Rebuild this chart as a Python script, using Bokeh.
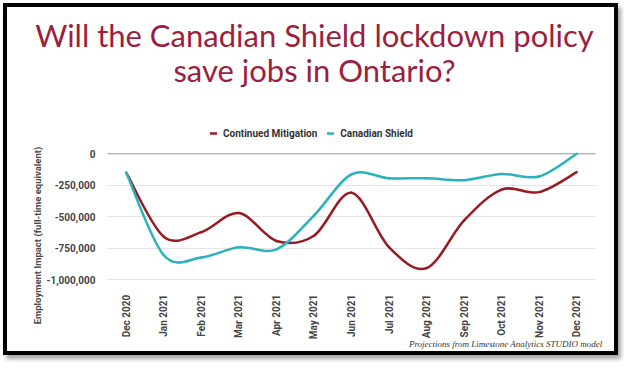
import math
from bokeh.plotting import figure
from bokeh.models import (Range1d, FixedTicker, NumeralTickFormatter, Span, Label,
                          BoxAnnotation, Legend, LegendItem, ColumnDataSource)
from bokeh.embed import file_html
from bokeh.resources import INLINE

months = ["Dec 2020", "Jan 2021", "Feb 2021", "Mar 2021", "Apr 2021", "May 2021",
          "Jun 2021", "Jul 2021", "Aug 2021", "Sep 2021", "Oct 2021", "Nov 2021", "Dec 2021"]
continued_mitigation = [-150000, -658000, -622000, -470000, -692000, -650000,
                        -310000, -741000, -907000, -529000, -284000, -304000, -146000]
canadian_shield = [-150000, -805000, -823000, -742000, -758000, -490000,
                   -163000, -194000, -194000, -209000, -160000, -180000, 0]
y_ticks = [-1000000, -750000, -500000, -250000, 0]

title_lines = ["Will the Canadian Shield lockdown policy", "save jobs in Ontario?"]
y_title = "Employment Impact (full-time equivalent)"
footnote = "Projections from Limestone Analytics STUDIO model"

RED = "#961b22"
TEAL = "#2bb2bc"
TITLE_COLOR = "#9c1f3d"

# canvas geometry (pixels); the 4px border is drawn inside the element box
BORDER = 4
W, H = 615, 352
PLOT_L, PLOT_R = 100, 588          # plot area left / right
Y0_PX, YMIN_PX = 146.3, 272.3      # pixel rows of 0 and of the lowest tick
n = len(months)
x_per_px = n / (PLOT_R - PLOT_L)
y_per_px = (0 - y_ticks[0]) / (YMIN_PX - Y0_PX)
x_start = -0.5 - PLOT_L * x_per_px
x_end = n - 0.5 + (W - PLOT_R) * x_per_px
y_top = Y0_PX * y_per_px
y_bottom = -(H - Y0_PX) * y_per_px

p = figure(width=W, height=H, output_backend="svg", toolbar_location=None,
           x_range=Range1d(x_start, x_end), y_range=Range1d(y_bottom, y_top),
           min_border=0, background_fill_color="white", border_fill_color="white")
p.outline_line_color = None
p.styles = {"border": "%dpx solid #000" % BORDER, "margin": "3px 0 0 3px",
            "box-shadow": "3px 4px 4px rgba(0,0,0,0.35)"}


def bezier_source(vals):
    m = len(vals)
    xs = list(range(m))
    x0, y0, x1, y1, cx0, cy0, cx1, cy1 = [], [], [], [], [], [], [], []
    for i in range(m - 1):
        pm = max(i - 1, 0)
        pp = min(i + 2, m - 1)
        x0.append(xs[i]); y0.append(vals[i])
        x1.append(xs[i + 1]); y1.append(vals[i + 1])
        cx0.append(xs[i] + (xs[i + 1] - xs[pm]) / 6.0)
        cy0.append(vals[i] + (vals[i + 1] - vals[pm]) / 6.0)
        cx1.append(xs[i + 1] - (xs[pp] - xs[i]) / 6.0)
        cy1.append(vals[i + 1] - (vals[pp] - vals[i]) / 6.0)
    return ColumnDataSource(dict(x0=x0, y0=y0, x1=x1, y1=y1,
                                 cx0=cx0, cy0=cy0, cx1=cx1, cy1=cy1))


# grid + baseline, limited to the plot area by white masks
p.xgrid.grid_line_color = None
p.ygrid.ticker = FixedTicker(ticks=y_ticks)
p.ygrid.grid_line_color = "#e4e4e4"
p.ygrid.grid_line_width = 1
p.add_layout(Span(location=0, dimension="width", line_color="#a0a0a0", line_width=1,
                  level="underlay"))
p.add_layout(BoxAnnotation(right=-0.5, fill_color="white", fill_alpha=1.0,
                           line_color=None, level="underlay"))
p.add_layout(BoxAnnotation(left=n - 0.5, fill_color="white", fill_alpha=1.0,
                           line_color=None, level="underlay"))

r_red = p.bezier(x0="x0", y0="y0", x1="x1", y1="y1", cx0="cx0", cy0="cy0",
                 cx1="cx1", cy1="cy1", source=bezier_source(continued_mitigation),
                 line_color=RED, line_width=2.5, line_cap="round")
r_teal = p.bezier(x0="x0", y0="y0", x1="x1", y1="y1", cx0="cx0", cy0="cy0",
                  cx1="cx1", cy1="cy1", source=bezier_source(canadian_shield),
                  line_color=TEAL, line_width=2.5, line_cap="round")

# axes, pinned to the plot-area edges
p.xaxis.fixed_location = y_ticks[0]
p.xaxis.ticker = FixedTicker(ticks=list(range(n)))
p.xaxis.major_label_overrides = {i: m for i, m in enumerate(months)}
p.xaxis.major_label_orientation = math.pi / 2
p.xaxis.axis_line_color = None
p.xaxis.major_tick_line_color = None
p.xaxis.minor_tick_line_color = None
p.xaxis.major_label_standoff = 9
p.xaxis.major_label_text_font = "Roboto"
p.xaxis.major_label_text_font_style = "bold"
p.xaxis.major_label_text_font_size = "10px"
p.xaxis.major_label_text_color = "#444444"

p.yaxis.fixed_location = -0.5
p.yaxis.ticker = FixedTicker(ticks=y_ticks)
p.yaxis.formatter = NumeralTickFormatter(format="0,0")
p.yaxis.axis_line_color = None
p.yaxis.major_tick_line_color = None
p.yaxis.minor_tick_line_color = None
p.yaxis.major_label_standoff = 6
p.yaxis.major_label_text_font = "Roboto"
p.yaxis.major_label_text_font_style = "bold"
p.yaxis.major_label_text_font_size = "10px"
p.yaxis.major_label_text_color = "#444444"

# legend
legend = Legend(items=[LegendItem(label="Continued Mitigation", renderers=[r_red]),
                       LegendItem(label="Canadian Shield", renderers=[r_teal])],
                orientation="horizontal", location=(203, H - 132),
                padding=0, margin=0, spacing=10, label_standoff=6,
                glyph_width=7, glyph_height=12, label_height=12,
                label_text_font="Roboto", label_text_font_style="bold",
                label_text_font_size="10px", label_text_color="#333333",
                border_line_color=None, background_fill_alpha=0)
p.add_layout(legend, "center")

# title
p.add_layout(Label(x=307, y=H - 27, x_units="screen", y_units="screen", text=title_lines[0],
                   text_align="center", text_baseline="alphabetic",
                   text_font="Lato", text_font_size="31px", text_color=TITLE_COLOR))
p.add_layout(Label(x=307, y=H - 62, x_units="screen", y_units="screen", text=title_lines[1],
                   text_align="center", text_baseline="alphabetic",
                   text_font="Lato", text_font_size="31px", text_color=TITLE_COLOR))

# y axis title
p.add_layout(Label(x=30, y=H - 228, x_units="screen", y_units="screen", text=y_title,
                   angle=math.pi / 2, text_align="center", text_baseline="middle",
                   text_font="Roboto", text_font_size="9.5px", text_font_style="bold",
                   text_color="#4a4a4a"))

# footnote
p.add_layout(Label(x=595, y=H - 336, x_units="screen", y_units="screen", text=footnote,
                   text_align="right", text_baseline="alphabetic",
                   text_font="Liberation Serif", text_font_style="italic",
                   text_font_size="9px", text_color="#333333"))

open("out.html", "w").write(file_html(p, INLINE))
